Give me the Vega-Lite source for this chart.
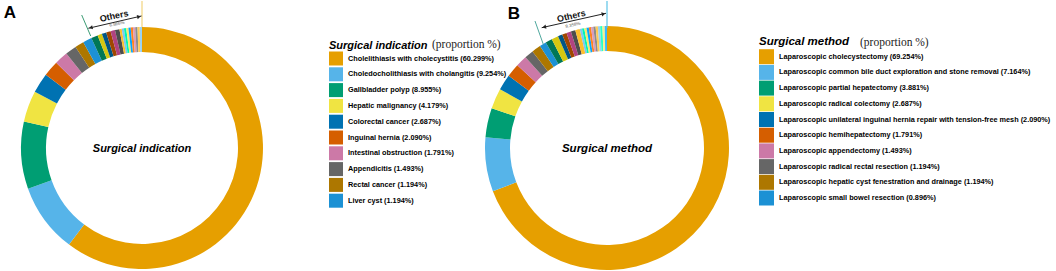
{
  "$schema": "https://vega.github.io/schema/vega-lite/v6.json",
  "padding": 0,
  "background": "white",
  "config": {"view": {"stroke": null}, "font": "Liberation Sans"},
  "bounds": "flush",
  "spacing": 181,
  "resolve": {"scale": {"color": "independent", "x": "independent", "y": "independent"}, "legend": {"color": "independent"}},
  "hconcat": [
    {
      "width": 284,
      "height": 294,
      "layer": [
        {
          "data": {"values": [
            {"idx": 1, "label": "Cholelithiasis with cholecystitis  (60.299%)", "pct": 60.299},
            {"idx": 2, "label": "Choledocholithiasis with cholangitis  (9.254%)", "pct": 9.254},
            {"idx": 3, "label": "Gallbladder polyp  (8.955%)", "pct": 8.955},
            {"idx": 4, "label": "Hepatic malignancy  (4.179%)", "pct": 4.179},
            {"idx": 5, "label": "Colorectal cancer  (2.687%)", "pct": 2.687},
            {"idx": 6, "label": "Inguinal hernia  (2.090%)", "pct": 2.090},
            {"idx": 7, "label": "Intestinal obstruction  (1.791%)", "pct": 1.791},
            {"idx": 8, "label": "Appendicitis  (1.493%)", "pct": 1.493},
            {"idx": 9, "label": "Rectal cancer  (1.194%)", "pct": 1.194},
            {"idx": 10, "label": "Liver cyst  (1.194%)", "pct": 1.194},
            {"idx": 11, "label": "Other A11", "pct": 0.896},
            {"idx": 12, "label": "Other A12", "pct": 0.597},
            {"idx": 13, "label": "Other A13", "pct": 0.597},
            {"idx": 14, "label": "Other A14", "pct": 0.597},
            {"idx": 15, "label": "Other A15", "pct": 0.597},
            {"idx": 16, "label": "Other A16", "pct": 0.597},
            {"idx": 17, "label": "Other A17", "pct": 0.299},
            {"idx": 18, "label": "Other A18", "pct": 0.299},
            {"idx": 19, "label": "Other A19", "pct": 0.299},
            {"idx": 20, "label": "Other A20", "pct": 0.299},
            {"idx": 21, "label": "Other A21", "pct": 0.299},
            {"idx": 22, "label": "Other A22", "pct": 0.299},
            {"idx": 23, "label": "Other A23", "pct": 0.299},
            {"idx": 24, "label": "Other A24", "pct": 0.299},
            {"idx": 25, "label": "Other A25", "pct": 0.299},
            {"idx": 26, "label": "Other A26", "pct": 0.299}
          ]},
          "mark": {"type": "arc", "outerRadius": 121, "innerRadius": 96},
          "encoding": {
            "theta": {"field": "pct", "type": "quantitative", "stack": true},
            "order": {"field": "idx", "type": "quantitative"},
            "color": {
              "field": "label", "type": "nominal", "sort": {"field": "idx"},
              "scale": {"range": ["#E69F00","#56B4E9","#009E73","#F0E442","#0072B2","#D55E00","#CC79A7","#666666","#AD7700","#1C91D4","#007756","#D5C711","#005685","#A04700","#B14380","#4D4D4D","#FFBE2D","#80C7EF","#00F6B3","#F4EB71","#06A5FF","#FF8320","#D99BBD","#8C8C8C","#FFCB57","#9AD2F2"]},
              "legend": {
                "orient": "none", "legendX": 329, "legendY": 38.5,
                "title": "Surgical indication",
                "titleFont": "Liberation Sans", "titleFontSize": 11, "titleFontStyle": "italic", "titleFontWeight": "bold", "titleColor": "#000", "titlePadding": 1,
                "symbolType": "square", "symbolSize": 196, "symbolStrokeWidth": 0, "symbolOpacity": 1,
                "labelFont": "Liberation Sans", "labelFontSize": 7.3, "labelFontWeight": "bold", "labelColor": "#000", "labelOffset": 5, "labelLimit": 400,
                "rowPadding": 1.8,
                "values": ["Cholelithiasis with cholecystitis  (60.299%)","Choledocholithiasis with cholangitis  (9.254%)","Gallbladder polyp  (8.955%)","Hepatic malignancy  (4.179%)","Colorectal cancer  (2.687%)","Inguinal hernia  (2.090%)","Intestinal obstruction  (1.791%)","Appendicitis  (1.493%)","Rectal cancer  (1.194%)","Liver cyst  (1.194%)"]
              }
            }
          }
        },
        {
          "data": {"values": [{"x": 0, "y": 121, "x2": 0, "y2": 147}]},
          "mark": {"type": "rule", "color": "#F2D47E", "strokeWidth": 1.2},
          "encoding": {
            "x": {"field": "x", "type": "quantitative", "scale": {"domain": [-142, 142], "nice": false}, "axis": null},
            "y": {"field": "y", "type": "quantitative", "scale": {"domain": [-147, 147], "nice": false}, "axis": null},
            "x2": {"field": "x2"}, "y2": {"field": "y2"}
          }
        },
        {
          "data": {"values": [{"x": -51.3, "y": 112, "x2": -60.3, "y2": 133}]},
          "mark": {"type": "rule", "color": "#3C9C74", "strokeWidth": 1},
          "encoding": {
            "x": {"field": "x", "type": "quantitative", "scale": {"domain": [-142, 142], "nice": false}, "axis": null},
            "y": {"field": "y", "type": "quantitative", "scale": {"domain": [-147, 147], "nice": false}, "axis": null},
            "x2": {"field": "x2"}, "y2": {"field": "y2"}
          }
        },
        {
          "data": {"values": [{"x": -53.7, "y": 119.7, "x2": -0.5, "y2": 132}]},
          "mark": {"type": "rule", "color": "#222", "strokeWidth": 1},
          "encoding": {
            "x": {"field": "x", "type": "quantitative", "scale": {"domain": [-142, 142], "nice": false}, "axis": null},
            "y": {"field": "y", "type": "quantitative", "scale": {"domain": [-147, 147], "nice": false}, "axis": null},
            "x2": {"field": "x2"}, "y2": {"field": "y2"}
          }
        },
        {
          "data": {"values": [{"x": -3, "y": 131.3}]},
          "mark": {"type": "point", "shape": "triangle-right", "filled": true, "color": "#222", "size": 18, "angle": -13, "opacity": 1},
          "encoding": {
            "x": {"field": "x", "type": "quantitative", "scale": {"domain": [-142, 142], "nice": false}, "axis": null},
            "y": {"field": "y", "type": "quantitative", "scale": {"domain": [-147, 147], "nice": false}, "axis": null}
          }
        },
        {
          "data": {"values": [{"x": -51.2, "y": 120.3}]},
          "mark": {"type": "point", "shape": "triangle-left", "filled": true, "color": "#222", "size": 18, "angle": -13, "opacity": 1},
          "encoding": {
            "x": {"field": "x", "type": "quantitative", "scale": {"domain": [-142, 142], "nice": false}, "axis": null},
            "y": {"field": "y", "type": "quantitative", "scale": {"domain": [-147, 147], "nice": false}, "axis": null}
          }
        },
        {
          "data": {"values": [{"x": -28, "y": 132, "t": "Others"}]},
          "mark": {"type": "text", "font": "Liberation Sans", "fontWeight": "bold", "fontSize": 9, "angle": -12, "color": "#111"},
          "encoding": {
            "x": {"field": "x", "type": "quantitative", "scale": {"domain": [-142, 142], "nice": false}, "axis": null},
            "y": {"field": "y", "type": "quantitative", "scale": {"domain": [-147, 147], "nice": false}, "axis": null},
            "text": {"field": "t"}
          }
        },
        {
          "data": {"values": [{"x": -25, "y": 123.7, "t": "6.866%"}]},
          "mark": {"type": "text", "font": "Liberation Sans", "fontSize": 4.5, "angle": -12, "color": "#555"},
          "encoding": {
            "x": {"field": "x", "type": "quantitative", "scale": {"domain": [-142, 142], "nice": false}, "axis": null},
            "y": {"field": "y", "type": "quantitative", "scale": {"domain": [-147, 147], "nice": false}, "axis": null},
            "text": {"field": "t"}
          }
        },
        {
          "data": {"values": [{"x": -132, "y": 135, "t": "A"}]},
          "mark": {"type": "text", "font": "Liberation Sans", "fontWeight": "bold", "fontSize": 17, "color": "#000"},
          "encoding": {
            "x": {"field": "x", "type": "quantitative", "scale": {"domain": [-142, 142], "nice": false}, "axis": null},
            "y": {"field": "y", "type": "quantitative", "scale": {"domain": [-147, 147], "nice": false}, "axis": null},
            "text": {"field": "t"}
          }
        },
        {
          "data": {"values": [{"x": 0, "y": -1, "t": "Surgical indication"}]},
          "mark": {"type": "text", "font": "Liberation Sans", "fontWeight": "bold", "fontStyle": "italic", "fontSize": 11, "color": "#000"},
          "encoding": {
            "x": {"field": "x", "type": "quantitative", "scale": {"domain": [-142, 142], "nice": false}, "axis": null},
            "y": {"field": "y", "type": "quantitative", "scale": {"domain": [-147, 147], "nice": false}, "axis": null},
            "text": {"field": "t"}
          }
        },
        {
          "data": {"values": [{"x": 290, "y": 103, "t": "(proportion %)"}]},
          "mark": {"type": "text", "font": "Liberation Serif", "fontSize": 11.5, "align": "left", "color": "#222"},
          "encoding": {
            "x": {"field": "x", "type": "quantitative", "scale": {"domain": [-142, 142], "nice": false}, "axis": null},
            "y": {"field": "y", "type": "quantitative", "scale": {"domain": [-147, 147], "nice": false}, "axis": null},
            "text": {"field": "t"}
          }
        }
      ]
    },
    {
      "width": 284,
      "height": 294,
      "layer": [
        {
          "data": {"values": [
            {"idx": 1, "label": "Laparoscopic cholecystectomy  (69.254%)", "pct": 69.254},
            {"idx": 2, "label": "Laparoscopic common bile duct exploration and stone removal  (7.164%)", "pct": 7.164},
            {"idx": 3, "label": "Laparoscopic partial hepatectomy  (3.881%)", "pct": 3.881},
            {"idx": 4, "label": "Laparoscopic radical colectomy  (2.687%)", "pct": 2.687},
            {"idx": 5, "label": "Laparoscopic unilateral inguinal hernia repair with tension-free mesh  (2.090%)", "pct": 2.090},
            {"idx": 6, "label": "Laparoscopic  hemihepatectomy  (1.791%)", "pct": 1.791},
            {"idx": 7, "label": "Laparoscopic appendectomy  (1.493%)", "pct": 1.493},
            {"idx": 8, "label": "Laparoscopic radical rectal resection  (1.194%)", "pct": 1.194},
            {"idx": 9, "label": "Laparoscopic hepatic cyst fenestration and drainage  (1.194%)", "pct": 1.194},
            {"idx": 10, "label": "Laparoscopic small bowel resection  (0.896%)", "pct": 0.896},
            {"idx": 11, "label": "Other B11", "pct": 0.896},
            {"idx": 12, "label": "Other B12", "pct": 0.896},
            {"idx": 13, "label": "Other B13", "pct": 0.597},
            {"idx": 14, "label": "Other B14", "pct": 0.597},
            {"idx": 15, "label": "Other B15", "pct": 0.597},
            {"idx": 16, "label": "Other B16", "pct": 0.597},
            {"idx": 17, "label": "Other B17", "pct": 0.597},
            {"idx": 18, "label": "Other B18", "pct": 0.299},
            {"idx": 19, "label": "Other B19", "pct": 0.299},
            {"idx": 20, "label": "Other B20", "pct": 0.299},
            {"idx": 21, "label": "Other B21", "pct": 0.299},
            {"idx": 22, "label": "Other B22", "pct": 0.299},
            {"idx": 23, "label": "Other B23", "pct": 0.299},
            {"idx": 24, "label": "Other B24", "pct": 0.299},
            {"idx": 25, "label": "Other B25", "pct": 0.299},
            {"idx": 26, "label": "Other B26", "pct": 0.299},
            {"idx": 27, "label": "Other B27", "pct": 0.299},
            {"idx": 28, "label": "Other B28", "pct": 0.299},
            {"idx": 29, "label": "Other B29", "pct": 0.299}
          ]},
          "mark": {"type": "arc", "outerRadius": 122, "innerRadius": 97},
          "encoding": {
            "theta": {"field": "pct", "type": "quantitative", "stack": true},
            "order": {"field": "idx", "type": "quantitative"},
            "color": {
              "field": "label", "type": "nominal", "sort": {"field": "idx"},
              "scale": {"range": ["#E69F00","#56B4E9","#009E73","#F0E442","#0072B2","#D55E00","#CC79A7","#666666","#AD7700","#1C91D4","#007756","#D5C711","#005685","#A04700","#B14380","#4D4D4D","#FFBE2D","#80C7EF","#00F6B3","#F4EB71","#06A5FF","#FF8320","#D99BBD","#8C8C8C","#FFCB57","#9AD2F2","#2CFFC6","#F6EF8E","#38B7FF"]},
              "legend": {
                "orient": "none", "legendX": 294, "legendY": 35,
                "title": "Surgical method",
                "titleFont": "Liberation Sans", "titleFontSize": 11.5, "titleFontStyle": "italic", "titleFontWeight": "bold", "titleColor": "#000", "titlePadding": 1.7,
                "symbolType": "square", "symbolSize": 225, "symbolStrokeWidth": 0, "symbolOpacity": 1,
                "labelFont": "Liberation Sans", "labelFontSize": 7.3, "labelFontWeight": "bold", "labelColor": "#000", "labelOffset": 5, "labelLimit": 400,
                "rowPadding": 0.7,
                "values": ["Laparoscopic cholecystectomy  (69.254%)","Laparoscopic common bile duct exploration and stone removal  (7.164%)","Laparoscopic partial hepatectomy  (3.881%)","Laparoscopic radical colectomy  (2.687%)","Laparoscopic unilateral inguinal hernia repair with tension-free mesh  (2.090%)","Laparoscopic  hemihepatectomy  (1.791%)","Laparoscopic appendectomy  (1.493%)","Laparoscopic radical rectal resection  (1.194%)","Laparoscopic hepatic cyst fenestration and drainage  (1.194%)","Laparoscopic small bowel resection  (0.896%)"]
              }
            }
          }
        },
        {
          "data": {"values": [{"x": 0, "y": 120, "x2": 0, "y2": 147}]},
          "mark": {"type": "rule", "color": "#5CC3E6", "strokeWidth": 1.2},
          "encoding": {
            "x": {"field": "x", "type": "quantitative", "scale": {"domain": [-142, 142], "nice": false}, "axis": null},
            "y": {"field": "y", "type": "quantitative", "scale": {"domain": [-147, 147], "nice": false}, "axis": null},
            "x2": {"field": "x2"}, "y2": {"field": "y2"}
          }
        },
        {
          "data": {"values": [{"x": -63.7, "y": 103.7, "x2": -72, "y2": 127}]},
          "mark": {"type": "rule", "color": "#4FA89E", "strokeWidth": 1},
          "encoding": {
            "x": {"field": "x", "type": "quantitative", "scale": {"domain": [-142, 142], "nice": false}, "axis": null},
            "y": {"field": "y", "type": "quantitative", "scale": {"domain": [-147, 147], "nice": false}, "axis": null},
            "x2": {"field": "x2"}, "y2": {"field": "y2"}
          }
        },
        {
          "data": {"values": [{"x": -65.3, "y": 120.3, "x2": -1, "y2": 134.7}]},
          "mark": {"type": "rule", "color": "#222", "strokeWidth": 1},
          "encoding": {
            "x": {"field": "x", "type": "quantitative", "scale": {"domain": [-142, 142], "nice": false}, "axis": null},
            "y": {"field": "y", "type": "quantitative", "scale": {"domain": [-147, 147], "nice": false}, "axis": null},
            "x2": {"field": "x2"}, "y2": {"field": "y2"}
          }
        },
        {
          "data": {"values": [{"x": -3.5, "y": 134.1}]},
          "mark": {"type": "point", "shape": "triangle-right", "filled": true, "color": "#222", "size": 18, "angle": -13, "opacity": 1},
          "encoding": {
            "x": {"field": "x", "type": "quantitative", "scale": {"domain": [-142, 142], "nice": false}, "axis": null},
            "y": {"field": "y", "type": "quantitative", "scale": {"domain": [-147, 147], "nice": false}, "axis": null}
          }
        },
        {
          "data": {"values": [{"x": -62.8, "y": 120.9}]},
          "mark": {"type": "point", "shape": "triangle-left", "filled": true, "color": "#222", "size": 18, "angle": -13, "opacity": 1},
          "encoding": {
            "x": {"field": "x", "type": "quantitative", "scale": {"domain": [-142, 142], "nice": false}, "axis": null},
            "y": {"field": "y", "type": "quantitative", "scale": {"domain": [-147, 147], "nice": false}, "axis": null}
          }
        },
        {
          "data": {"values": [{"x": -35.7, "y": 132, "t": "Others"}]},
          "mark": {"type": "text", "font": "Liberation Sans", "fontWeight": "bold", "fontSize": 9, "angle": -13, "color": "#111"},
          "encoding": {
            "x": {"field": "x", "type": "quantitative", "scale": {"domain": [-142, 142], "nice": false}, "axis": null},
            "y": {"field": "y", "type": "quantitative", "scale": {"domain": [-147, 147], "nice": false}, "axis": null},
            "text": {"field": "t"}
          }
        },
        {
          "data": {"values": [{"x": -34, "y": 122.7, "t": "8.358%"}]},
          "mark": {"type": "text", "font": "Liberation Sans", "fontSize": 4.5, "angle": -13, "color": "#555"},
          "encoding": {
            "x": {"field": "x", "type": "quantitative", "scale": {"domain": [-142, 142], "nice": false}, "axis": null},
            "y": {"field": "y", "type": "quantitative", "scale": {"domain": [-147, 147], "nice": false}, "axis": null},
            "text": {"field": "t"}
          }
        },
        {
          "data": {"values": [{"x": -93, "y": 134.5, "t": "B"}]},
          "mark": {"type": "text", "font": "Liberation Sans", "fontWeight": "bold", "fontSize": 17, "color": "#000"},
          "encoding": {
            "x": {"field": "x", "type": "quantitative", "scale": {"domain": [-142, 142], "nice": false}, "axis": null},
            "y": {"field": "y", "type": "quantitative", "scale": {"domain": [-147, 147], "nice": false}, "axis": null},
            "text": {"field": "t"}
          }
        },
        {
          "data": {"values": [{"x": 0, "y": -1, "t": "Surgical method"}]},
          "mark": {"type": "text", "font": "Liberation Sans", "fontWeight": "bold", "fontStyle": "italic", "fontSize": 11.5, "color": "#000"},
          "encoding": {
            "x": {"field": "x", "type": "quantitative", "scale": {"domain": [-142, 142], "nice": false}, "axis": null},
            "y": {"field": "y", "type": "quantitative", "scale": {"domain": [-147, 147], "nice": false}, "axis": null},
            "text": {"field": "t"}
          }
        },
        {
          "data": {"values": [{"x": 253, "y": 105, "t": "(proportion %)"}]},
          "mark": {"type": "text", "font": "Liberation Serif", "fontSize": 11.5, "align": "left", "color": "#222"},
          "encoding": {
            "x": {"field": "x", "type": "quantitative", "scale": {"domain": [-142, 142], "nice": false}, "axis": null},
            "y": {"field": "y", "type": "quantitative", "scale": {"domain": [-147, 147], "nice": false}, "axis": null},
            "text": {"field": "t"}
          }
        }
      ]
    }
  ]
}
